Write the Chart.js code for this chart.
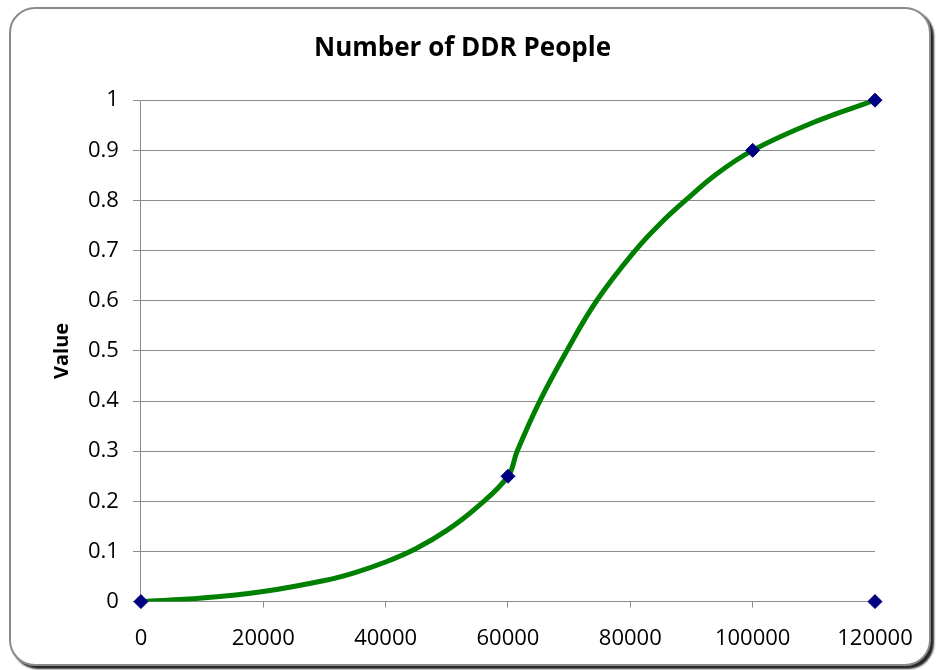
<!DOCTYPE html>
<html>
<head>
<meta charset="utf-8">
<script src="https://cdn.jsdelivr.net/npm/chart.js@4/dist/chart.umd.min.js"></script>
<style>
  html, body { margin: 0; padding: 0; background: #fff; }
  #wrap { position: relative; width: 938px; height: 670px; overflow: hidden; }
  #frame {
    position: absolute; left: 9px; top: 7px; width: 918px; height: 655px;
    border: 2px solid #8a8a8a; border-radius: 26px;
    box-shadow: 3px 3px 2px rgba(0, 0, 0, 0.85);
    background: #fff;
  }
  #chart { position: absolute; left: 0; top: 0; }
</style>
</head>
<body>
<div id="wrap">
  <div id="frame"></div>
  <canvas id="chart" width="938" height="670"></canvas>
</div>
<script>
// curve
const curveX = [0, 10000, 20000, 30000, 35000, 40000, 45000, 50000, 55000, 60000,
  61500, 65200, 69600, 74500, 80800, 85000, 89000, 94000, 100000, 110000, 120000];
const curveY = [0, 0.007, 0.02, 0.042, 0.058, 0.079, 0.106, 0.142, 0.189, 0.25,
  0.3, 0.4, 0.5, 0.6, 0.7, 0.755, 0.8, 0.852, 0.9, 0.956, 1];

// markers
const pointX = [0, 60000, 100000, 120000, 120000];
const pointY = [0, 0.25, 0.9, 1, 0];

const xTicks = [0, 20000, 40000, 60000, 80000, 100000, 120000];

const font = 'Open Sans';
const gridColor = '#8c8c8c';

const ctx = document.getElementById('chart').getContext('2d');

new Chart(ctx, {
  type: 'scatter',
  data: {
    datasets: [{
      label: 'curve',
      data: curveX.map((x, i) => ({ x, y: curveY[i] })),
      showLine: true,
      borderColor: '#008000',
      borderWidth: 5,
      tension: 0.4,
      pointRadius: 0,
      pointHoverRadius: 0,
      order: 2,
    }, {
      label: 'points',
      data: pointX.map((x, i) => ({ x, y: pointY[i] })),
      showLine: false,
      clip: false,
      pointStyle: 'rectRot',
      pointRadius: 7,
      pointHoverRadius: 7,
      backgroundColor: '#000080',
      borderColor: '#000080',
      borderWidth: 1,
      order: 1,
    }],
  },
  options: {
    responsive: false,
    animation: false,
    layout: {
      padding: { left: 50, right: 63, top: 30, bottom: 0 },
    },
    plugins: {
      legend: { display: false },
      tooltip: { enabled: false },
      title: {
        display: true,
        text: 'Number of DDR People',
        color: '#000',
        font: { family: font, size: 26, weight: 'bold' },
        padding: { top: 3, bottom: 36 },
      },
    },
    scales: {
      x: {
        type: 'linear',
        min: 0,
        max: 120000,
        afterBuildTicks: (axis) => {
          axis.ticks = xTicks.map((v) => ({ value: v }));
        },
        ticks: {
          color: '#000',
          font: { family: font, size: 22 },
          padding: 18,
          maxRotation: 0,
          autoSkip: false,
          callback: (v) => String(v),
        },
        grid: {
          drawOnChartArea: false,
          drawTicks: true,
          tickLength: 6,
          color: gridColor,
        },
        border: { display: true, color: gridColor },
      },
      y: {
        min: 0,
        max: 1,
        ticks: {
          stepSize: 0.1,
          color: '#000',
          font: { family: font, size: 22 },
          padding: 14,
          callback: (v) => String(Math.round(v * 10) / 10),
        },
        grid: {
          drawTicks: true,
          tickLength: 8,
          color: gridColor,
        },
        border: { display: true, color: gridColor },
        title: {
          display: true,
          text: 'Value',
          color: '#000',
          font: { family: font, size: 20, weight: 'bold' },
          padding: { top: 0, bottom: 0 },
        },
      },
    },
  },
});
</script>
</body>
</html>
